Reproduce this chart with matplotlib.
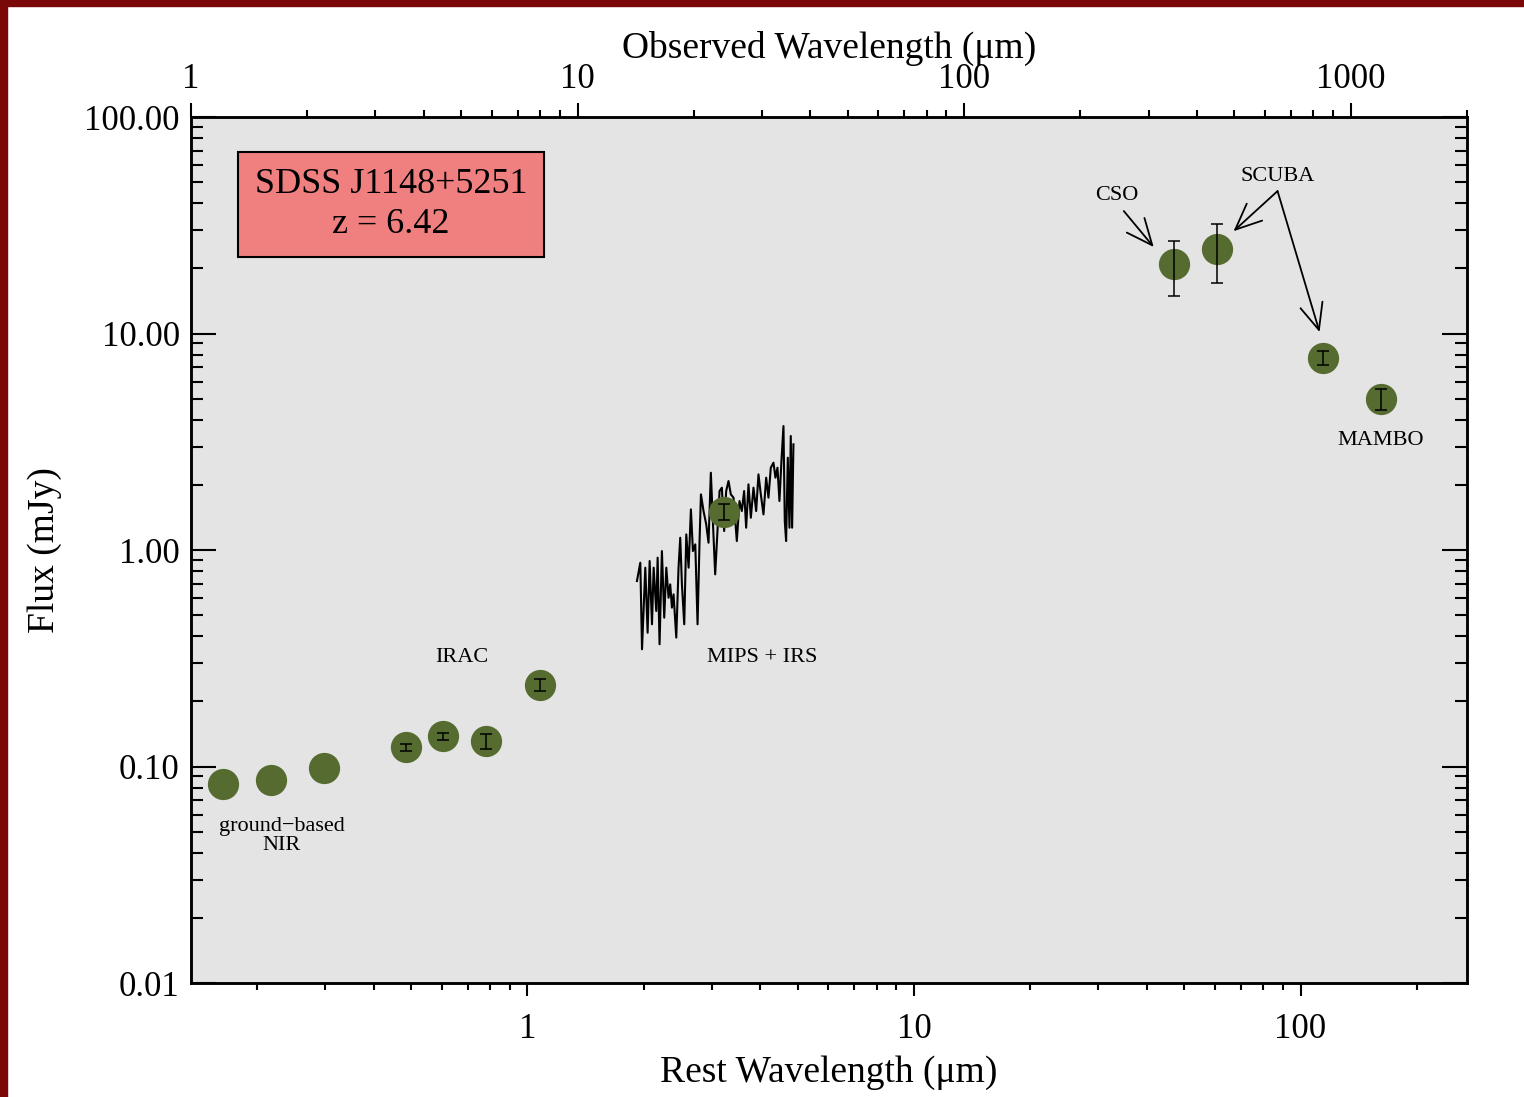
import numpy as np
import matplotlib
matplotlib.use('Agg')
import matplotlib.pyplot as plt
from matplotlib.patches import Rectangle
from matplotlib.ticker import LogLocator, FuncFormatter, NullFormatter

plt.rcParams.update({'font.family': ['Liberation Serif', 'DejaVu Serif'], 'font.size': 16})

z = 6.42

# photometry: observed wavelength (um), flux (mJy), 1-sigma error (mJy)
phot_obs = [1.21, 1.61, 2.21, 3.6, 4.5, 5.8, 8.0, 24.0, 350.0, 450.0, 850.0, 1200.0]
phot_flux = [0.0828, 0.0866, 0.0988, 0.1227, 0.138, 0.131, 0.239, 1.50, 20.9, 24.5, 7.73, 4.97]
phot_err = [0.0, 0.0, 0.0, 0.0045, 0.005, 0.010, 0.016, 0.13, 6.0, 7.4, 0.6, 0.55]

# IRS spectrum (rest wavelength in um, flux in mJy)
spec_wave = [1.920, 1.959, 1.979, 2.018, 2.046, 2.071, 2.100, 2.121, 2.154, 2.172,
             2.197, 2.228, 2.259, 2.287, 2.318, 2.341, 2.365, 2.388, 2.427, 2.460,
             2.485, 2.510, 2.545, 2.576, 2.612, 2.648, 2.680, 2.718, 2.755, 2.788,
             2.811, 2.855, 2.901, 2.941, 2.982, 3.018, 3.060, 3.102, 3.141, 3.184,
             3.228, 3.267, 3.313, 3.359, 3.413, 3.481, 3.537, 3.586, 3.636, 3.680,
             3.731, 3.784, 3.844, 3.906, 3.960, 4.016, 4.080, 4.146, 4.203, 4.262,
             4.330, 4.382, 4.435, 4.487, 4.541, 4.596, 4.632, 4.669, 4.716, 4.763,
             4.800, 4.839, 4.877]
spec_flux = [0.719, 0.874, 0.348, 0.829, 0.415, 0.890, 0.454, 0.829, 0.523, 0.922,
             0.367, 0.989, 0.487, 0.829, 0.602, 0.694, 0.542, 0.624, 0.394, 0.829,
             1.140, 0.694, 0.454, 1.181, 0.829, 1.541, 0.989, 1.062, 0.454, 1.100,
             1.807, 1.514, 1.314, 1.081, 2.276, 1.361, 0.772, 1.224, 1.873, 1.941,
             1.224, 1.873, 2.083, 1.807, 1.745, 1.100, 1.684, 1.514, 1.873, 1.268,
             2.011, 1.410, 1.941, 1.514, 2.236, 1.807, 1.461, 2.159, 1.745, 2.401,
             2.532, 2.159, 2.401, 1.684, 2.577, 3.739, 1.361, 1.100, 2.670, 1.268,
             3.363, 1.268, 3.077]

rest = np.array(phot_obs) / (1 + z)
flux = np.array(phot_flux)
err = np.array(phot_err)
has_err = err > 0

fig = plt.figure(figsize=(15.24, 10.97), dpi=100)
fig.patch.set_facecolor('white')
# red strip along the top and left edges
fig.patches.append(Rectangle((0, 0), 7 / 1524, 1, transform=fig.transFigure, color='#7a0808', zorder=0))
fig.patches.append(Rectangle((0, 1 - 6 / 1097), 1, 6 / 1097, transform=fig.transFigure, color='#7a0808', zorder=0))

ax = fig.add_axes([0.1253, 0.1039, 0.8373, 0.7894])
ax.set_facecolor('#e4e4e4')
ax.set_xscale('log')
ax.set_yscale('log')
ax.set_xlim(1 / (1 + z), 2000 / (1 + z))
ax.set_ylim(0.01, 100)

ax.plot(spec_wave, spec_flux, color='black', lw=1.5, zorder=1)
ax.plot(rest, flux, 'o', color='#556b2f', ms=22.5, mec='none', zorder=2)
ax.errorbar(rest[has_err], flux[has_err], yerr=err[has_err], fmt='none', ecolor='black',
            elinewidth=1.1, capsize=4.6, capthick=1.1, zorder=3)

# tick styling
ax.yaxis.set_major_locator(LogLocator(base=10, numticks=10))
ax.yaxis.set_minor_locator(LogLocator(base=10, subs=np.arange(2, 10), numticks=10))
ax.yaxis.set_major_formatter(FuncFormatter(lambda v, p: '%.2f' % v))
ax.yaxis.set_minor_formatter(NullFormatter())
ax.xaxis.set_major_formatter(FuncFormatter(lambda v, p: '%g' % v))
ax.xaxis.set_minor_formatter(NullFormatter())
ax.tick_params(axis='y', which='both', direction='in', left=True, right=True, labelsize=25, pad=8, width=1.5)
ax.tick_params(axis='y', which='major', length=18)
ax.tick_params(axis='y', which='minor', length=8.6)
ax.tick_params(axis='x', which='both', direction='out', top=False, bottom=True, labelsize=25, pad=12, width=1.5)
ax.tick_params(axis='x', which='major', length=9.5)
ax.tick_params(axis='x', which='minor', length=5)
for s in ax.spines.values():
    s.set_linewidth(1.8)

ax.set_xlabel('Rest Wavelength (\u03bcm)', fontsize=27, labelpad=7)
ax.set_ylabel('Flux (mJy)', fontsize=27, labelpad=16)

# top axis: observed wavelength
ax2 = ax.twiny()
ax2.set_xscale('log')
ax2.set_xlim(1, 2000)
ax2.xaxis.set_major_formatter(FuncFormatter(lambda v, p: '%g' % v))
ax2.xaxis.set_minor_formatter(NullFormatter())
ax2.tick_params(axis='x', which='both', direction='out', labelsize=25, pad=5, width=1.5)
ax2.tick_params(axis='x', which='major', length=10)
ax2.tick_params(axis='x', which='minor', length=5)
ax2.set_xlabel('Observed Wavelength (\u03bcm)', fontsize=27, labelpad=4)
for s in ax2.spines.values():
    s.set_linewidth(1.8)

# labels
ax.text(0.2313, 0.0477, 'ground\u2212based\nNIR', ha='center', va='center', linespacing=1.0, fontsize=16)
ax.text(0.675, 0.3205, 'IRAC', ha='center', va='center', fontsize=16)
ax.text(4.05, 0.3205, 'MIPS + IRS', ha='center', va='center', fontsize=16)
ax.text(33.5, 43.2, 'CSO', ha='center', va='center', fontsize=16)
ax.text(87.2, 53.4, 'SCUBA', ha='center', va='center', fontsize=16)
ax.text(160.9, 3.22, 'MAMBO', ha='center', va='center', fontsize=16)

arrow = dict(arrowstyle='->,head_length=1.25,head_width=0.55', color='black', lw=1.3,
             shrinkA=0, shrinkB=0, mutation_scale=15)
ax.annotate('', xy=(41.7, 25.1), xytext=(34.9, 36.8), arrowprops=arrow)
ax.annotate('', xy=(67.1, 29.7), xytext=(87.2, 45.5), arrowprops=arrow)
ax.annotate('', xy=(112.0, 10.16), xytext=(87.2, 45.5), arrowprops=arrow)

ax.text(0.1567, 0.899, 'SDSS J1148+5251\nz = 6.42', transform=ax.transAxes, ha='center', va='center',
        multialignment='center', fontsize=26, linespacing=1.25,
        bbox=dict(boxstyle='square,pad=0.46', facecolor='#f08080', edgecolor='black', linewidth=1.5))

fig.savefig('out.png', dpi=100)
